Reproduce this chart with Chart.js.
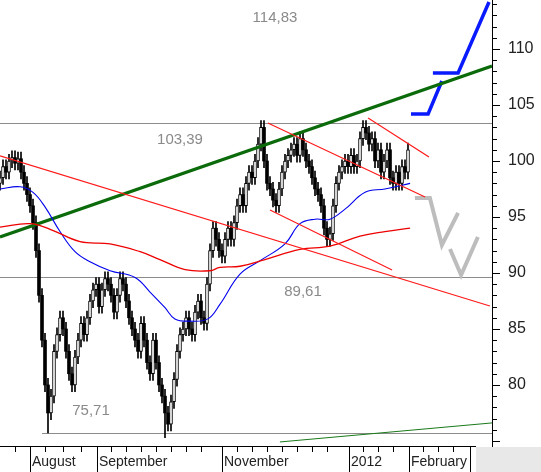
<!DOCTYPE html>
<html>
<head>
<meta charset="utf-8">
<script src="https://cdn.jsdelivr.net/npm/chart.js@4.4.1/dist/chart.umd.min.js"></script>
<style>
  html, body { margin: 0; padding: 0; background: #fff; }
  #wrap { width: 541px; height: 472px; position: relative; }
</style>
</head>
<body>
<div id="wrap"><canvas id="chart" width="541" height="472"></canvas></div>
<script>
// daily closes, one per trading day (index = day)
const closes = [
  98.5, 99.5, 99, 100, 100.3, 99.8, 100.2,
  99, 98, 97, 96, 94.5,
  92, 88, 84, 80, 77.5,
  79, 83, 84.5, 86, 85,
  83, 81, 80, 82.5, 84,
  85.5, 84.5, 86, 87.5, 88.5,
  89, 87, 88.5, 89.5, 89,
  88, 86.5, 88, 89.5, 89,
  87.5, 86, 85, 84, 83,
  85.5, 84, 82, 81, 84,
  82, 80, 79, 77.5, 76.5,
  78.5, 80.5, 83, 84.5, 85,
  86, 85, 84.5, 86.5, 87.5,
  86, 85.5, 89, 92, 94,
  93, 92, 91.5, 93, 94,
  93, 94.5, 96, 97, 96,
  98, 99, 98.5, 100, 101.5,
  103, 100, 98, 97.5, 96.5,
  96, 97.5, 99, 100, 100.5,
  101, 101.5, 100.5, 102, 101,
  100, 99.5, 98.5, 97.5, 97,
  96, 94, 93, 93.5, 96,
  98, 99, 99.5, 100, 99.5,
  100.5, 99.5, 100, 102, 103,
  102.5, 101.5, 102, 100, 101,
  99, 100, 101, 98.5, 98,
  99, 98, 99.5, 99, 101
];
const extremeLows = { 16: 75.71, 55: 75.3 };

// moving averages, [day, value]
const fastAvg = [[0,97.5],[6.7,97.7],[11,97.2],[15,95.9],[20,93.7],[25,91.9],[30,91.0],[36.7,90.2],[45,89.6],[50,88.3],[55,86.9],[58.3,85.9],[63.3,85.7],[69.3,85.9],[73.3,87.2],[80,89.9],[86.7,91.1],[95,92.6],[100,94.4],[105,94.8],[110,94.8],[115,95.7],[121.7,97.2],[128.3,97.5],[136.7,98.0]];
const slowAvg = [[0,94.1],[10,94.4],[16.7,93.9],[26.7,92.8],[36.7,92.6],[46.7,91.9],[53.3,91.2],[61.7,90.3],[70,90.2],[73.3,90.5],[80,90.6],[88.3,91.2],[100,92.1],[110,92.4],[120,93.3],[128.3,93.7],[136.7,94.0]];

// drawn trend lines, [day, value]
const greenTrend = [[0,93.21],[164,108.48]];
const greenLow = [[93.3,74.91],[164,76.61]];
const redA = [[0,100.45],[163.3,87.05]];
const redB = [[90,95.63],[130.7,90.27]];
const redE = [[89.3,103.39],[141.7,96.79]];
const redF = [[122.7,103.84],[143,100.36]];
const grayPath1 = [[138.3,96.7],[143.3,96.7],[147.3,92.5],[152.7,95.36]];
const grayPath2 = [[150,92.14],[153.7,89.82],[159.3,93.21]];
const bluePath1 = [[137,104.2],[142.7,104.2],[147.3,107.14]];
const bluePath2 = [[144.3,107.86],[152.7,107.86],[163,114.2]];

// levels
const levels = [
  { v: 103.39, from: 0, label: '103,39', lx: 180, dy: 17 },
  { v: 89.61, from: 0, label: '89,61', lx: 303, dy: 15 },
  { v: 75.71, from: 14, label: '75,71', lx: 91, dy: -22 }
];
const topLabel = '114,83';

// x axis
const monthBreaks = [10, 32.3, 74, 116.3, 136.3, 156.7];
const monthNames = ['August', 'September', 'November', '2012', 'February'];
const weekTicks = [5, 15, 21, 27, 37, 42, 47, 52, 57, 62, 67, 79, 84, 89, 94, 99, 104, 109, 121, 126, 131, 141, 146, 151];
const priceTicks = [80, 85, 90, 95, 100, 105, 110];

// candle data
const wicks = [], upBodies = [], downBodies = [];
closes.forEach((c, i) => {
  const o = i === 0 ? c - 0.5 : closes[i - 1];
  const hi = Math.max(o, c) + 0.6;
  const lo = extremeLows[i] !== undefined ? extremeLows[i] : Math.min(o, c) - 0.6;
  wicks.push({ x: i, y: [lo, hi] });
  const body = { x: i, y: [Math.min(o, c), Math.max(o, c) + (Math.abs(o - c) < 0.2 ? 0.2 : 0)] };
  if (c >= o) upBodies.push(body); else downBodies.push(body);
});

const pts = arr => arr.map(p => ({ x: p[0], y: p[1] }));
function line(data, color, width, smooth) {
  return { type: 'line', data: pts(data), borderColor: color, borderWidth: width,
    pointRadius: 0, tension: smooth ? 0.4 : 0, fill: false };
}

const overlay = {
  id: 'overlay',
  beforeDatasetsDraw(chart) {
    const { ctx, scales: { x, y } } = chart;
    ctx.save();
    ctx.strokeStyle = '#8c8c8c';
    ctx.lineWidth = 1;
    levels.forEach(l => {
      const py = Math.round(y.getPixelForValue(l.v)) + 0.5;
      ctx.beginPath(); ctx.moveTo(x.getPixelForValue(l.from), py); ctx.lineTo(492, py); ctx.stroke();
    });
    ctx.restore();
  },
  afterDraw(chart) {
    const { ctx, scales: { x, y } } = chart;
    ctx.save();
    // gray labels
    ctx.fillStyle = '#8a8a8a';
    ctx.font = '15px Arial, "Liberation Sans", sans-serif';
    ctx.textAlign = 'center';
    ctx.textBaseline = 'middle';
    levels.forEach(l => ctx.fillText(l.label, l.lx, y.getPixelForValue(l.v) + l.dy));
    ctx.fillText(topLabel, 275, 18);

    // frame
    ctx.strokeStyle = '#000';
    ctx.lineWidth = 1;
    ctx.beginPath();
    ctx.moveTo(0, 446.5); ctx.lineTo(476, 446.5);
    ctx.moveTo(492.5, 0); ctx.lineTo(492.5, 472);
    ctx.stroke();
    ctx.fillStyle = '#e8e8e8';
    ctx.fillRect(476, 447, 65, 25);

    // price axis
    ctx.fillStyle = '#222';
    ctx.font = '16px Arial, "Liberation Sans", sans-serif';
    ctx.textAlign = 'left';
    for (let v = 75; v <= 114; v++) {
      const py = Math.round(y.getPixelForValue(v)) + 0.5;
      const len = v % 5 === 0 ? 8 : 5;
      ctx.beginPath(); ctx.moveTo(492, py); ctx.lineTo(492 + len, py); ctx.stroke();
    }
    priceTicks.forEach(v => ctx.fillText(String(v), 508, y.getPixelForValue(v)));

    // time axis
    ctx.font = '14px Arial, "Liberation Sans", sans-serif';
    ctx.textBaseline = 'middle';
    monthBreaks.forEach(d => {
      const px = Math.round(x.getPixelForValue(d)) + 0.5;
      ctx.beginPath(); ctx.moveTo(px, 446); ctx.lineTo(px, 472); ctx.stroke();
    });
    weekTicks.forEach(d => {
      const px = Math.round(x.getPixelForValue(d)) + 0.5;
      ctx.beginPath(); ctx.moveTo(px, 446); ctx.lineTo(px, 452); ctx.stroke();
    });
    monthNames.forEach((m, i) => ctx.fillText(m, x.getPixelForValue(monthBreaks[i]) + 2, 462));
    ctx.restore();
  }
};

new Chart(document.getElementById('chart'), {
  type: 'bar',
  data: {
    datasets: [
      line(greenLow, '#1a7a1a', 1),
      line(redA, '#ff1a1a', 1.2),
      line(redB, '#ff1a1a', 1.2),
      line(redE, '#ff1a1a', 1.2),
      line(redF, '#ff1a1a', 1.2),
      line(slowAvg, '#ee0000', 1.3, true),
      line(fastAvg, '#0000ee', 1.1, true),
      line(greenTrend, '#0b6b0b', 3.2),
      line(grayPath1, '#bdbdbd', 4),
      line(grayPath2, '#bdbdbd', 4),
      line(bluePath1, '#0a1aff', 3.5),
      line(bluePath2, '#0a1aff', 3.5),
      { data: wicks, backgroundColor: '#000', barThickness: 1, grouped: false, order: 2 },
      { data: upBodies, backgroundColor: '#fff', borderColor: '#000', borderWidth: 1, borderSkipped: false, barThickness: 3, grouped: false, order: 1 },
      { data: downBodies, backgroundColor: '#000', borderColor: '#000', borderWidth: 0, barThickness: 3, grouped: false, order: 1 }
    ]
  },
  options: {
    responsive: false,
    animation: false,
    layout: { padding: { left: 0, top: 0, right: 49, bottom: 26 } },
    plugins: { legend: { display: false }, tooltip: { enabled: false } },
    scales: {
      x: { type: 'linear', min: 0, max: 164, offset: false, display: false },
      y: { min: 74.55, max: 114.375, display: false }
    }
  },
  plugins: [overlay]
});
</script>
</body>
</html>
